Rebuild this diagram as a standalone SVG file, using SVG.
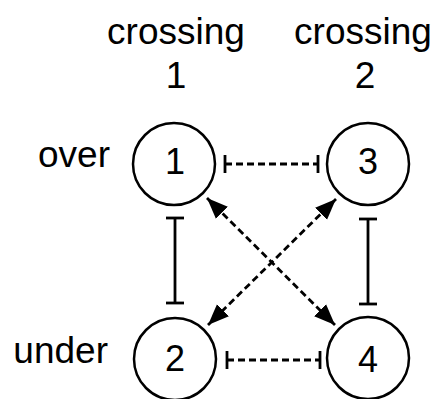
<svg xmlns="http://www.w3.org/2000/svg" width="434" height="399" viewBox="0 0 434 399">
<style>
text{font-family:"Liberation Sans",Arial,sans-serif;font-size:37px;fill:#000}
.node circle{fill:#fff;stroke:#000;stroke-width:2.5}
.node text{font-size:36px}
.lbl{text-anchor:middle}
.side{text-anchor:end}
.c line{stroke:#000;stroke-width:2.8;fill:none}
.dash{stroke-dasharray:7 4}
.tee{marker-start:url(#tee);marker-end:url(#tee)}
.arr{marker-start:url(#arr);marker-end:url(#arr)}
</style>
<defs>
<marker id="tee" markerUnits="userSpaceOnUse" viewBox="-3 -10 6 20" markerWidth="6" markerHeight="20" refX="0" refY="0" orient="auto">
<path d="M0,-9 L0,9" stroke="#000" stroke-width="2.8" fill="none"/>
</marker>
<marker id="arr" markerUnits="userSpaceOnUse" viewBox="0 -9 22 18" markerWidth="22" markerHeight="18" refX="21" refY="0" orient="auto-start-reverse">
<path d="M0,-8.5 L21,0 L0,8.5 Z" fill="#000"/>
</marker>
</defs>
<g id="headers">
<text class="lbl" x="176" y="44">crossing</text>
<text class="lbl" x="176" y="88">1</text>
<text class="lbl" x="363" y="44">crossing</text>
<text class="lbl" x="365" y="88">2</text>
<text class="side" x="110" y="167">over</text>
<text class="side" x="108" y="363">under</text>
</g>
<g id="connectors" class="c">
<line class="dash tee" x1="225" y1="164" x2="318" y2="164"/>
<line class="dash tee" x1="227" y1="360" x2="320" y2="360"/>
<line class="tee" x1="175" y1="218" x2="175" y2="303"/>
<line class="tee" x1="368" y1="219" x2="368" y2="304"/>
<line class="dash arr" x1="207" y1="198" x2="335" y2="325"/>
<line class="dash arr" x1="336" y1="199" x2="208" y2="325"/>
</g>
<g id="node1" class="node"><circle cx="174" cy="164" r="41"/><text class="lbl" x="175" y="174">1</text></g>
<g id="node3" class="node"><circle cx="368" cy="164" r="41"/><text class="lbl" x="368" y="174">3</text></g>
<g id="node2" class="node"><circle cx="175" cy="359" r="41"/><text class="lbl" x="175" y="371">2</text></g>
<g id="node4" class="node"><circle cx="368" cy="358" r="41"/><text class="lbl" x="368" y="372">4</text></g>
</svg>
